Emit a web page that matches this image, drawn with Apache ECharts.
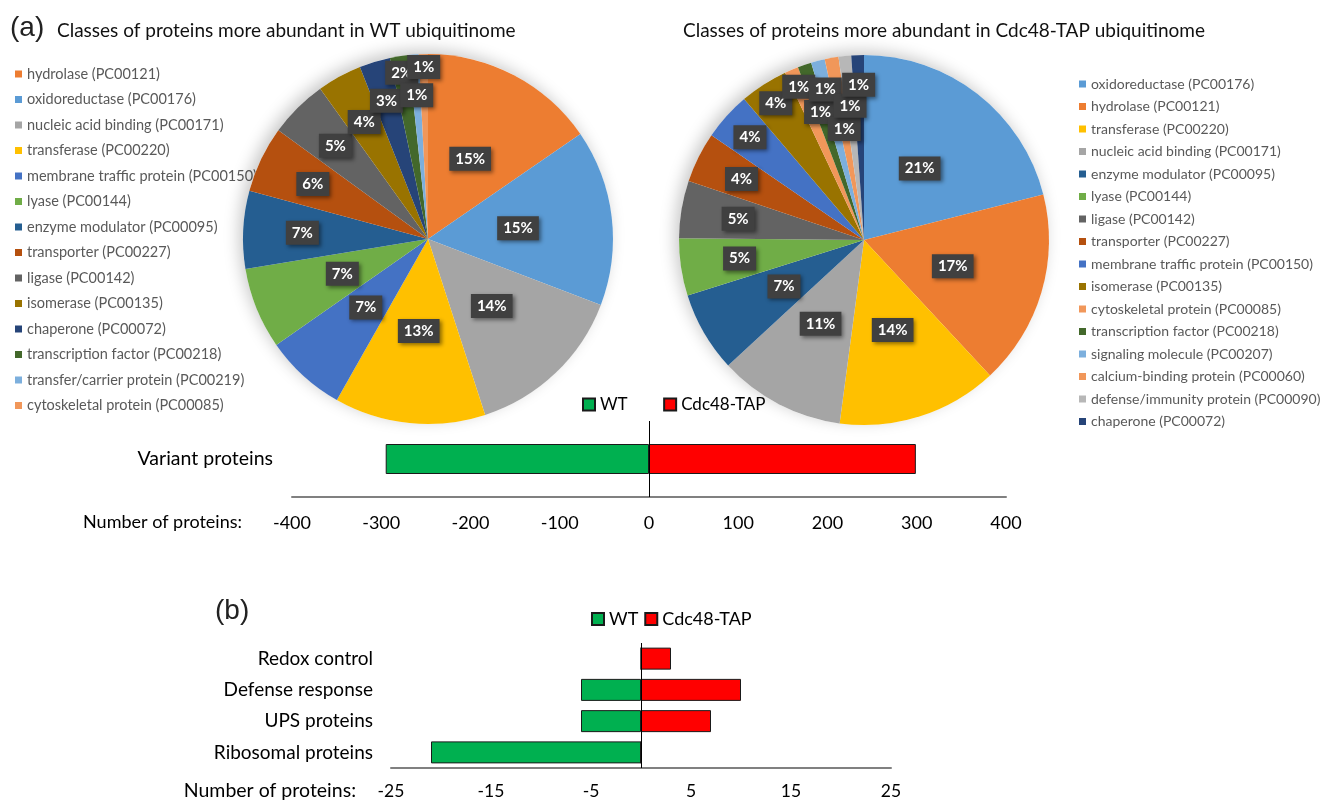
<!DOCTYPE html>
<html><head><meta charset="utf-8">
<script src="https://cdn.jsdelivr.net/npm/echarts@6/dist/echarts.min.js"></script>
<style>html,body{margin:0;padding:0;background:#fff}#c{width:1326px;height:803px}</style>
</head><body><div id="c"></div>
<script>
// ---------- DATA ----------
const wtClasses = ['hydrolase (PC00121)','oxidoreductase (PC00176)','nucleic acid binding (PC00171)','transferase (PC00220)','membrane traffic protein (PC00150)','lyase (PC00144)','enzyme modulator (PC00095)','transporter (PC00227)','ligase (PC00142)','isomerase (PC00135)','chaperone (PC00072)','transcription factor (PC00218)','transfer/carrier protein (PC00219)','cytoskeletal protein (PC00085)'];
const wtShares = [15.4,15.4,14.2,13.2,7.1,7.1,6.8,5.8,5.1,3.9,2.7,1.6,0.9,0.8];

const tapClasses = ['oxidoreductase (PC00176)','hydrolase (PC00121)','transferase (PC00220)','nucleic acid binding (PC00171)','enzyme modulator (PC00095)','lyase (PC00144)','ligase (PC00142)','transporter (PC00227)','membrane traffic protein (PC00150)','isomerase (PC00135)','cytoskeletal protein (PC00085)','transcription factor (PC00218)','signaling molecule (PC00207)','calcium-binding protein (PC00060)','defense/immunity protein (PC00090)','chaperone (PC00072)'];
const tapShares = [21,17,14,11,7,5,5,4.4,4.2,4.2,1.2,1.2,1.2,1.2,1.1,1.1];

const variantCategories = ['Variant proteins'];
const variantWT = [-295];
const variantTAP = [299];
const variantTicks = [-400,-300,-200,-100,0,100,200,300,400];

const groupCategories = ['Redox control','Defense response','UPS proteins','Ribosomal proteins'];
const groupWT = [0,-6,-6,-21];
const groupTAP = [3,10,7,0];
const groupTicks = [-25,-15,-5,5,15,25];

// ---------- STYLE ----------
const classColors = {
  'oxidoreductase (PC00176)':'#5B9BD5','hydrolase (PC00121)':'#ED7D31','nucleic acid binding (PC00171)':'#A5A5A5',
  'transferase (PC00220)':'#FFC000','membrane traffic protein (PC00150)':'#4472C4','lyase (PC00144)':'#70AD47',
  'enzyme modulator (PC00095)':'#255E91','transporter (PC00227)':'#B5500F','ligase (PC00142)':'#636363',
  'isomerase (PC00135)':'#997300','chaperone (PC00072)':'#264478','transcription factor (PC00218)':'#43682B',
  'transfer/carrier protein (PC00219)':'#7CAFDD','cytoskeletal protein (PC00085)':'#F1975A',
  'signaling molecule (PC00207)':'#7CAFDD','calcium-binding protein (PC00060)':'#F1975A',
  'defense/immunity protein (PC00090)':'#B7B7B7'
};
const wtLabelRadius = [0.49,0.49,0.5,0.5,0.5,0.5,0.68,0.69,0.71,0.72,0.78,0.91,0.78,0.93];
const tapLabelRadius = [0.49,0.5,0.51,0.51,0.5,0.68,0.69,0.74,0.83,0.88,0.9,0.73,0.84,0.61,0.73,0.84];
const FONT = 'Lato';
const GREEN = '#00B050', RED = '#FF0000';

const PIE_R = 185;
const leftCenter = [428,239], rightCenter = [864,240];

function labelLayoutFor(center, values, fracs){
  const total = values.reduce((a,b)=>a+b,0);
  const mids = []; let cum = 0;
  values.forEach(v => { mids.push((cum + v/2)/total*2*Math.PI); cum += v; });
  return function(p){
    const a = mids[p.dataIndex], rr = fracs[p.dataIndex]*PIE_R;
    return {x: center[0] + rr*Math.sin(a), y: center[1] - rr*Math.cos(a), align:'center', verticalAlign:'middle'};
  };
}
const pieLabel = {
  show:true, position:'inside', formatter: p => Math.round(p.percent) + '%',
  color:'#fff', fontWeight:'bold', fontSize:15, fontFamily:FONT,
  backgroundColor:'#404040', padding:[5,6,4,6],
  shadowColor:'rgba(0,0,0,0.45)', shadowBlur:4, shadowOffsetX:2, shadowOffsetY:2
};
function pieSeries(name, center, classes, shares, fracs){
  return {
    type:'pie', name, center, radius:[0,PIE_R], startAngle:90, clockwise:true,
    avoidLabelOverlap:false, z:3,
    data: classes.map((n,i)=>({name:n, value:shares[i], itemStyle:{color:classColors[n]}})),
    label: pieLabel, labelLine:{show:false},
    labelLayout: labelLayoutFor(center, shares, fracs),
    emphasis:{disabled:true}
  };
}
function shadowPie(center){
  return {type:'pie', center, radius:[0,PIE_R], silent:true, z:1, label:{show:false},
    data:[{name:'', value:1, itemStyle:{color:'#fff', shadowBlur:16, shadowColor:'rgba(0,0,0,0.22)', shadowOffsetX:-4, shadowOffsetY:-4}}],
    emphasis:{disabled:true}};
}
const legendTextL = {fontFamily:FONT, fontSize:14.5, color:'#595959', lineHeight:16};
const legendTextR = {fontFamily:FONT, fontSize:14, color:'#595959', lineHeight:16};
const barBorder = {borderColor:'#1a1a1a', borderWidth:1};
const zeroLine = {silent:true, symbol:'none', label:{show:false}, lineStyle:{color:'#000', width:1, type:'solid'}, data:[{xAxis:0}]};

const option = {
  animation:false,
  backgroundColor:'#fff',
  graphic:[
    {type:'text', left:10, top:14, style:{text:'(a)', font:'28px "Liberation Sans"', fill:'#222'}},
    {type:'text', left:57, top:21, style:{text:'Classes of proteins more abundant in WT ubiquitinome', font:'19px Lato', fill:'#111'}},
    {type:'text', left:683, top:21, style:{text:'Classes of proteins more abundant in Cdc48-TAP ubiquitinome', font:'19px Lato', fill:'#111'}},
    {type:'text', right:1326-242, top:513, style:{text:'Number of proteins:', font:'18px Lato', fill:'#000', align:'right'}},
    {type:'text', left:215, top:597, style:{text:'(b)', font:'28px "Liberation Sans"', fill:'#222'}},
    {type:'text', right:1326-356, top:781, style:{text:'Number of proteins:', font:'19.5px Lato', fill:'#000', align:'right'}}
  ],
  legend:[
    {data:wtClasses, orient:'vertical', left:15, top:66, padding:0, itemWidth:7, itemHeight:7, itemGap:9.5, icon:'rect', textStyle:legendTextL, z:1, selectedMode:false},
    {data:tapClasses, orient:'vertical', left:1079, top:76, padding:0, itemWidth:7, itemHeight:7, itemGap:6.5, icon:'rect', textStyle:legendTextR, z:1, selectedMode:false},
    {data:['WT','Cdc48-TAP'], left:582, top:396, padding:0, itemWidth:12, itemHeight:12, itemGap:35.5, icon:'rect', textStyle:{fontFamily:FONT, fontSize:17, color:'#000', lineHeight:17}, selectedMode:false},
    {data:['WT','Cdc48-TAP'], left:591, top:610, padding:0, itemWidth:12, itemHeight:12, itemGap:6, icon:'rect', textStyle:{fontFamily:FONT, fontSize:18, color:'#000', lineHeight:18}, selectedMode:false}
  ],
  grid:[
    {left:292, width:714, top:421, height:76},
    {left:391, width:500, top:643, height:125}
  ],
  xAxis:[
    {gridIndex:0, type:'value', min:variantTicks[0], max:variantTicks[variantTicks.length-1], interval:variantTicks[1]-variantTicks[0],
     splitLine:{show:false}, axisTick:{show:false}, axisLine:{show:true, onZero:false, lineStyle:{color:'#808080', width:2}},
     axisLabel:{fontFamily:FONT, fontSize:18, color:'#000', margin:17}},
    {gridIndex:1, type:'value', min:groupTicks[0], max:groupTicks[groupTicks.length-1], interval:groupTicks[1]-groupTicks[0],
     splitLine:{show:false}, axisTick:{show:false}, axisLine:{show:true, onZero:false, lineStyle:{color:'#808080', width:2}},
     axisLabel:{fontFamily:FONT, fontSize:17.5, color:'#000', margin:14}}
  ],
  yAxis:[
    {gridIndex:0, type:'category', data:variantCategories, axisLine:{show:false, onZero:false}, axisTick:{show:false},
     axisLabel:{fontFamily:FONT, fontSize:19.5, color:'#000', margin:19}},
    {gridIndex:1, type:'category', data:groupCategories, inverse:true, axisLine:{show:false, onZero:false}, axisTick:{show:false},
     axisLabel:{fontFamily:FONT, fontSize:19, color:'#000', margin:18}}
  ],
  series:[
    shadowPie(leftCenter), shadowPie(rightCenter),
    pieSeries('WT ubiquitinome', leftCenter, wtClasses, wtShares, wtLabelRadius),
    pieSeries('Cdc48-TAP ubiquitinome', rightCenter, tapClasses, tapShares, tapLabelRadius),
    {type:'bar', name:'WT', xAxisIndex:0, yAxisIndex:0, data:variantWT, barWidth:30, barGap:'-100%',
     itemStyle:Object.assign({color:GREEN}, barBorder), markLine:zeroLine, emphasis:{disabled:true}},
    {type:'bar', name:'Cdc48-TAP', xAxisIndex:0, yAxisIndex:0, data:variantTAP, barWidth:30, barGap:'-100%',
     itemStyle:Object.assign({color:RED}, barBorder), emphasis:{disabled:true}},
    {type:'bar', name:'WT', xAxisIndex:1, yAxisIndex:1, data:groupWT, barWidth:22, barGap:'-100%',
     itemStyle:Object.assign({color:GREEN}, barBorder), markLine:zeroLine, emphasis:{disabled:true}},
    {type:'bar', name:'Cdc48-TAP', xAxisIndex:1, yAxisIndex:1, data:groupTAP, barWidth:22, barGap:'-100%',
     itemStyle:Object.assign({color:RED}, barBorder), emphasis:{disabled:true}}
  ]
};
const chart = echarts.init(document.getElementById('c'), null, {renderer:'canvas'});
chart.setOption(option);
</script></body></html>
